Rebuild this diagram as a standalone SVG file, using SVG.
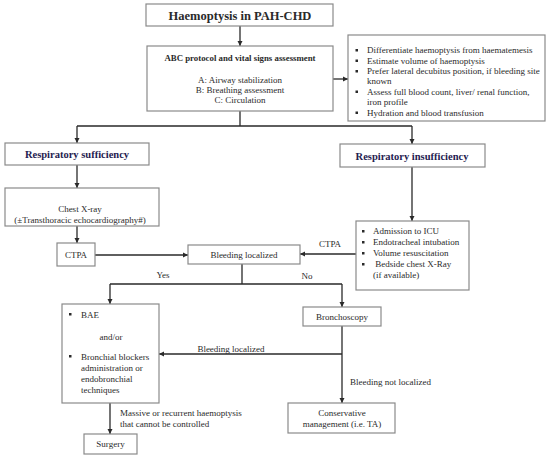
<svg xmlns="http://www.w3.org/2000/svg" width="550" height="458" viewBox="0 0 550 458">
<style>
.box{fill:#fff;stroke:#8a8a8a;stroke-width:1.2}
.t{font-family:"Liberation Serif","Times New Roman",serif;font-size:9px;fill:#2a2a2a}
.c{text-anchor:middle}
.b{font-weight:bold}
.h{font-family:"Liberation Serif","Times New Roman",serif;font-size:10.5px;font-weight:bold;fill:#1f2150;text-anchor:middle}
.ln{fill:none;stroke:#2a2a2a;stroke-width:1.3}
.bul{fill:#2a2a2a}
</style>
<defs>
<marker id="ah" markerUnits="userSpaceOnUse" markerWidth="6" markerHeight="6" refX="5" refY="3" orient="auto">
<path d="M0,0.5 L5,3 L0,5.5 Z" fill="#2a2a2a"/>
</marker>
</defs>
<rect width="550" height="458" fill="#fff"/>
<g id="connectors">
<path class="ln" d="M240 26 V46" marker-end="url(#ah)"/>
<path class="ln" d="M333 79 H348" marker-end="url(#ah)"/>
<path class="ln" d="M240 111 V126 M77 126 H412"/>
<path class="ln" d="M77 126 V143" marker-end="url(#ah)"/>
<path class="ln" d="M412 126 V144" marker-end="url(#ah)"/>
<path class="ln" d="M77 165 V188" marker-end="url(#ah)"/>
<path class="ln" d="M77 226 V243" marker-end="url(#ah)"/>
<path class="ln" d="M93 255 H188" marker-end="url(#ah)"/>
<path class="ln" d="M412 167 V221" marker-end="url(#ah)"/>
<path class="ln" d="M356 254 H300" marker-end="url(#ah)"/>
<path class="ln" d="M242 264 V284 M110 284 H342"/>
<path class="ln" d="M110 284 V304" marker-end="url(#ah)"/>
<path class="ln" d="M342 284 V307" marker-end="url(#ah)"/>
<path class="ln" d="M342 326 V403" marker-end="url(#ah)"/>
<path class="ln" d="M342 354 H159" marker-end="url(#ah)"/>
<path class="ln" d="M110 403 V434" marker-end="url(#ah)"/>
<text class="t" x="330" y="247" text-anchor="middle">CTPA</text>
<text class="t" x="163" y="278" text-anchor="middle">Yes</text>
<text class="t" x="307" y="279" text-anchor="middle">No</text>
<text class="t" x="231" y="352" text-anchor="middle">Bleeding localized</text>
<text class="t" x="350" y="385">Bleeding not localized</text>
<text class="t" x="120" y="416">Massive or recurrent haemoptysis</text>
<text class="t" x="120" y="427">that cannot be controlled</text>
</g>
<g id="title">
<rect class="box" x="146" y="4" width="187" height="22"/>
<text class="t b c" x="240" y="19.5" style="font-size:12.5px">Haemoptysis in PAH-CHD</text>
</g>
<g id="abc">
<rect class="box" x="147" y="46" width="186" height="65"/>
<text class="t b c" x="240" y="61" style="font-size:8.8px">ABC protocol and vital signs assessment</text>
<text class="t c" x="240" y="83">A: Airway stabilization</text>
<text class="t c" x="240" y="93">B: Breathing assessment</text>
<text class="t c" x="240" y="103">C: Circulation</text>
</g>
<g id="measures">
<rect class="box" x="348" y="35" width="197" height="86"/>
<rect class="bul" x="355.5" y="49" width="2.5" height="2.5"/>
<rect class="bul" x="355.5" y="59.5" width="2.5" height="2.5"/>
<rect class="bul" x="355.5" y="70" width="2.5" height="2.5"/>
<rect class="bul" x="355.5" y="90.5" width="2.5" height="2.5"/>
<rect class="bul" x="355.5" y="111.5" width="2.5" height="2.5"/>
<text class="t" x="367" y="53">Differentiate haemoptysis from haematemesis</text>
<text class="t" x="367" y="63.5">Estimate volume of haemoptysis</text>
<text class="t" x="367" y="74">Prefer lateral decubitus position, if bleeding site</text>
<text class="t" x="367" y="84">known</text>
<text class="t" x="367" y="94.5">Assess full blood count, liver/ renal function,</text>
<text class="t" x="367" y="105">iron profile</text>
<text class="t" x="367" y="115.5">Hydration and blood transfusion</text>
</g>
<g id="resp-sufficiency">
<rect class="box" x="5" y="143" width="144" height="22"/>
<text class="h" x="77" y="158">Respiratory sufficiency</text>
</g>
<g id="resp-insufficiency">
<rect class="box" x="340" y="144" width="145" height="23"/>
<text class="h" x="412" y="159.5">Respiratory insufficiency</text>
</g>
<g id="chest-xray">
<rect class="box" x="5" y="188" width="154" height="38"/>
<text class="t c" x="80" y="212">Chest X-ray</text>
<text class="t c" x="80" y="223">(±Transthoracic echocardiography#)</text>
</g>
<g id="ctpa">
<rect class="box" x="57" y="243" width="38" height="23"/>
<text class="t c" x="76" y="258">CTPA</text>
</g>
<g id="bleeding-localized">
<rect class="box" x="188" y="245" width="112" height="19"/>
<text class="t c" x="244" y="257.5">Bleeding localized</text>
</g>
<g id="icu">
<rect class="box" x="356" y="221" width="113" height="69"/>
<rect class="bul" x="362" y="230" width="2.5" height="2.5"/>
<rect class="bul" x="362" y="241" width="2.5" height="2.5"/>
<rect class="bul" x="362" y="252" width="2.5" height="2.5"/>
<rect class="bul" x="362" y="263" width="2.5" height="2.5"/>
<text class="t" x="373" y="234">Admission to ICU</text>
<text class="t" x="373" y="245">Endotracheal intubation</text>
<text class="t" x="373" y="256">Volume resuscitation</text>
<text class="t" x="373" y="267" xml:space="preserve"> Bedside chest X-Ray</text>
<text class="t" x="373" y="278">(if available)</text>
</g>
<g id="bae">
<rect class="box" x="62" y="304" width="97" height="99"/>
<rect class="bul" x="69" y="313" width="2.5" height="2.5"/>
<rect class="bul" x="69" y="355" width="2.5" height="2.5"/>
<text class="t" x="81" y="318">BAE</text>
<text class="t c" x="111" y="340">and/or</text>
<text class="t" x="81" y="360">Bronchial blockers</text>
<text class="t" x="81" y="371">administration or</text>
<text class="t" x="81" y="382">endobronchial</text>
<text class="t" x="81" y="393">techniques</text>
</g>
<g id="bronchoscopy">
<rect class="box" x="303" y="307" width="78" height="19"/>
<text class="t c" x="342" y="320">Bronchoscopy</text>
</g>
<g id="conservative">
<rect class="box" x="288" y="403" width="107" height="30"/>
<text class="t c" x="342" y="416">Conservative</text>
<text class="t c" x="342" y="427">management (i.e. TA)</text>
</g>
<g id="surgery">
<rect class="box" x="84" y="434" width="53" height="20"/>
<text class="t c" x="110.5" y="447">Surgery</text>
</g>
</svg>
